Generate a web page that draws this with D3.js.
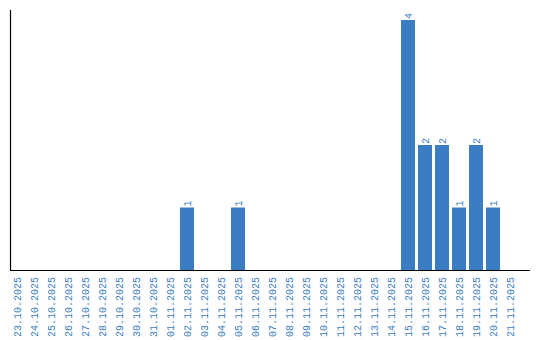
<!DOCTYPE html>
<html>
<head>
<meta charset="utf-8">
<script src="https://cdn.jsdelivr.net/npm/d3@7"></script>
<style>
  html, body { margin: 0; padding: 0; background: #fff; }
  svg { display: block; }
</style>
</head>
<body>
<svg id="chart" width="540" height="340"></svg>
<script>
const categories = ["23.10.2025","24.10.2025","25.10.2025","26.10.2025","27.10.2025","28.10.2025","29.10.2025","30.10.2025","31.10.2025","01.11.2025","02.11.2025","03.11.2025","04.11.2025","05.11.2025","06.11.2025","07.11.2025","08.11.2025","09.11.2025","10.11.2025","11.11.2025","12.11.2025","13.11.2025","14.11.2025","15.11.2025","16.11.2025","17.11.2025","18.11.2025","19.11.2025","20.11.2025","21.11.2025"];
const values = [0,0,0,0,0,0,0,0,0,0,1,0,0,1,0,0,0,0,0,0,0,0,0,4,2,2,1,2,1,0];

const svg = d3.select("#chart");
const color = "#3b7dc3";
const font = "'Liberation Mono', 'Courier New', monospace";

const x = d3.scaleBand().domain(categories).range([10, 530])
  .paddingInner(3/17).paddingOuter(0.382).align(0);
const y = d3.scaleLinear().domain([0, 4]).range([270, 20]);

svg.selectAll("rect.bar").data(values).join("rect")
  .attr("class", "bar")
  .attr("x", (d, i) => x(categories[i]))
  .attr("width", x.bandwidth())
  .attr("y", d => y(d))
  .attr("height", d => y(0) - y(d))
  .attr("fill", color);

svg.selectAll("text.val").data(values.map((v, i) => ({v, c: categories[i]})).filter(d => d.v > 0)).join("text")
  .attr("class", "val")
  .attr("transform", d => `translate(${x(d.c) + x.bandwidth() / 2 + 3.5},${y(d.v) - 1}) rotate(-90)`)
  .attr("text-anchor", "start")
  .attr("font-family", font)
  .attr("font-size", 10)
  .attr("fill", color)
  .text(d => d.v);

// x axis
const xAxis = svg.append("g").attr("transform", "translate(0,270)")
  .call(d3.axisBottom(x).tickSize(0).tickPadding(0));
xAxis.select(".domain").remove();
xAxis.selectAll("text")
  .attr("font-family", font)
  .attr("font-size", 10)
  .attr("fill", color)
  .attr("text-anchor", "end")
  .attr("dy", "0.35em")
  .attr("transform", "translate(0,7) rotate(-90)")
  .attr("x", 0).attr("y", 0);

svg.append("line").attr("x1", 10).attr("x2", 530).attr("y1", 270.5).attr("y2", 270.5)
  .attr("stroke", "#000").attr("stroke-width", 1.2);
svg.append("line").attr("x1", 10.5).attr("x2", 10.5).attr("y1", 10).attr("y2", 270.5)
  .attr("stroke", "#000").attr("stroke-width", 1.2);
</script>
</body>
</html>
